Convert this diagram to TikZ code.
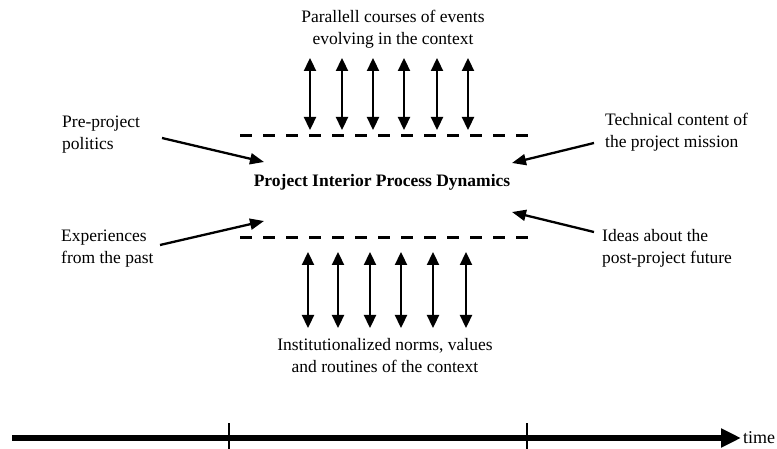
\documentclass[tikz,border=0pt]{standalone}
\usepackage{fontspec}
\setmainfont{Liberation Serif}
\usetikzlibrary{arrows.meta}
\begin{document}
\begin{tikzpicture}[x=1pt,y=-1pt,
  lbl/.style={font=\fontsize{17.5}{22}\selectfont, align=left, inner sep=0pt, anchor=base west},
  ctr/.style={font=\fontsize{17.5}{22}\selectfont, align=center, inner sep=0pt, anchor=base},
  dashline/.style={line width=3pt, dash pattern=on 12pt off 11pt},
  vArr/.style={line width=2.3pt, {Triangle[length=13pt,width=12pt]}-{Triangle[length=13pt,width=12pt]}},
  dArr/.style={line width=2.3pt, -{Triangle[length=14pt,width=11pt]}},
  tline/.style={line width=6pt, -{Triangle[length=20pt,width=18pt]}},
  tickline/.style={line width=1.5pt}]
\useasboundingbox (0,0) rectangle (777,449);
% texts
\node[ctr] (top) at (393,45) {Parallell courses of events\\evolving in the context};
\node[ctr] (bot) at (385,372) {Institutionalized norms, values\\and routines of the context};
\node[ctr, font=\fontsize{17.5}{22}\selectfont\bfseries] (mid) at (382,187) {Project Interior Process Dynamics};
\node[lbl] (ppol) at (62,150) {Pre-project\\politics};
\node[lbl] (exp) at (61,264) {Experiences\\from the past};
\node[lbl] (tech) at (605,148) {Technical content of\\the project mission};
\node[lbl] (ideas) at (602,264) {Ideas about the\\post-project future};
\node[font=\fontsize{18}{22}\selectfont, inner sep=0pt, anchor=base west] (time) at (743,443) {time};
% dashed boundaries
\coordinate (d1a) at (240,136); \coordinate (d1b) at (528,136);
\coordinate (d2a) at (240,238); \coordinate (d2b) at (528,238);
\draw[dashline] (d1a) -- (d1b);
\draw[dashline] (d2a) -- (d2b);
% vertical arrows
\foreach \x [count=\i] in {310,342,373,404,437,468}{
  \coordinate (ut\i) at (\x,58); \coordinate (ub\i) at (\x,130);
  \draw[vArr] (ut\i) -- (ub\i);
}
\foreach \x [count=\i] in {308,338,370,401,433,466}{
  \coordinate (lt\i) at (\x,252); \coordinate (lb\i) at (\x,328);
  \draw[vArr] (lt\i) -- (lb\i);
}
% diagonal arrows
\coordinate (s1) at (162,138); \coordinate (e1) at (264,162);
\coordinate (s2) at (160,245); \coordinate (e2) at (264,221);
\coordinate (s3) at (594,143); \coordinate (e3) at (512,163);
\coordinate (s4) at (594,232); \coordinate (e4) at (512,212);
\draw[dArr] (s1) -- (e1);
\draw[dArr] (s2) -- (e2);
\draw[dArr] (s3) -- (e3);
\draw[dArr] (s4) -- (e4);
% timeline
\coordinate (t0) at (12,438); \coordinate (t1) at (741,438);
\draw[tline] (t0) -- (t1);
\coordinate (k1a) at (229,423); \coordinate (k1b) at (229,449);
\coordinate (k2a) at (527,423); \coordinate (k2b) at (527,449);
\draw[tickline] (k1a) -- (k1b);
\draw[tickline] (k2a) -- (k2b);
\end{tikzpicture}
\end{document}
